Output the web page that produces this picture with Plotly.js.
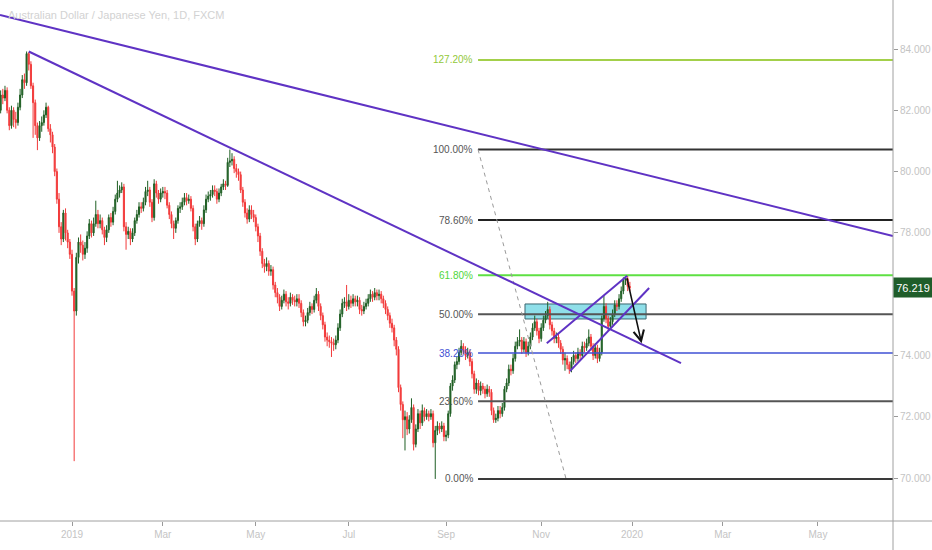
<!DOCTYPE html>
<html>
<head>
<meta charset="utf-8">
<script src="https://cdn.plot.ly/plotly-3.0.1.min.js"></script>
<style>html,body{margin:0;padding:0;background:#fff;}#chart{width:932px;height:550px;}</style>
</head>
<body>
<div id="chart"></div>
<script>
// ---------------- DATA ----------------
const symbolTitle = "Australian Dollar / Japanese Yen, 1D, FXCM";
const firstDate = "2018-11-13";
const holidays = ["2018-12-25", "2019-01-01", "2019-12-25", "2020-01-01"];
const firstOpen = 82.2;

const closes = [
  82.0, 82.5, 82.4, 82.65, 82.0, 81.5, 82.0, 81.7, 81.6, 82.1,
  82.5, 83.0, 82.9, 83.85, 83.5, 82.8, 82.25, 81.5, 81.1, 81.5,
  81.6, 81.85, 82.1, 81.4, 81.2, 80.8, 80.0, 79.1, 78.2, 77.8,
  78.65, 78.0, 77.7, 77.3, 76.1, 75.45, 77.2, 77.7, 77.6, 77.3,
  77.5, 77.9, 78.3, 78.0, 78.3, 78.6, 78.3, 78.4, 78.1, 77.85,
  78.1, 78.5, 78.35, 78.7, 79.1, 79.3, 79.4, 79.5, 78.2, 77.95,
  78.05, 77.8, 78.0, 78.4, 78.6, 78.85, 78.8, 79.0, 79.35, 79.4,
  79.0, 78.5, 79.6, 79.3, 79.1, 79.3, 79.35, 79.3, 78.9, 78.6,
  78.3, 78.15, 78.4, 78.8, 78.85, 79.0, 79.15, 79.05, 79.1, 78.8,
  78.2, 77.8, 78.3, 78.4, 78.3, 78.75, 79.1, 79.2, 79.25, 79.4,
  79.35, 79.1, 79.3, 79.5, 79.6, 79.55, 80.3, 80.35, 80.4, 80.1,
  80.0, 79.9, 79.4, 79.0, 78.65, 78.45, 78.75, 78.6, 78.5, 78.2,
  77.9, 77.4, 77.0, 76.9, 77.0, 76.75, 76.8, 76.3, 76.05, 75.9,
  75.6, 75.8, 76.0, 75.75, 75.7, 75.9, 75.8, 75.75, 75.85, 75.7,
  75.4, 75.1, 75.15, 75.4, 75.6, 75.5, 75.8, 76.0, 75.6, 75.3,
  75.0, 74.6, 74.5, 74.45, 74.4, 74.35, 74.5, 74.9, 75.35, 75.7,
  75.75, 75.6, 75.8, 75.7, 75.85, 75.75, 75.8, 75.5, 75.45, 75.6,
  75.7, 75.85, 76.0, 75.9, 76.05, 75.95, 76.0, 75.85, 75.7, 75.5,
  75.3, 75.05, 74.9, 74.5, 74.2, 72.95, 72.4, 71.9, 72.0, 71.6,
  71.9, 72.3, 71.1, 71.6, 72.1, 71.8, 72.2, 72.0, 72.1, 72.0,
  72.1, 71.15, 71.55, 71.7, 71.6, 71.7, 71.35, 71.4, 72.1, 73.0,
  73.2, 73.7, 73.8, 74.1, 74.3, 74.2, 74.0, 74.1, 73.8, 73.4,
  72.9, 73.1, 72.85, 73.0, 72.9, 72.75, 72.9, 72.8, 72.2, 71.9,
  71.95, 72.2, 72.1, 72.3, 72.9, 73.1, 73.55, 73.5, 73.9, 74.3,
  74.45, 74.5, 74.2, 74.45, 74.1, 74.3, 74.6, 74.9, 75.1, 74.8,
  74.55, 74.9, 75.15, 75.3, 75.5, 75.0, 74.8, 74.55, 74.6, 74.4,
  74.2, 73.85, 73.9, 73.7, 73.55, 73.8, 74.0, 73.9, 74.1, 74.0,
  74.3, 74.25, 74.4, 74.6, 74.3, 74.0, 74.25, 73.9, 74.1, 75.2,
  75.6, 75.2, 74.95, 75.1, 75.35, 75.65, 75.6, 75.85, 76.1, 76.45,
  76.5, 76.25, 76.219
];
const highs = [
  82.45, 82.65, 82.7, 82.8, 82.75, 82.1, 82.15, 82.1, 81.95, 82.25,
  82.7, 83.15, 83.2, 83.92, 83.9, 83.6, 82.9, 82.35, 81.6, 81.65,
  81.8, 82.0, 82.25, 82.15, 81.55, 81.3, 80.9, 80.1, 79.3, 78.35,
  78.75, 78.8, 78.1, 77.8, 77.45, 76.2, 77.35, 77.85, 77.95, 77.75,
  77.7, 78.05, 78.45, 78.4, 78.5, 79.05, 78.75, 78.6, 78.5, 78.2,
  78.25, 78.6, 78.65, 78.85, 79.25, 79.7, 79.55, 79.65, 79.6, 78.35,
  78.2, 78.15, 78.15, 78.5, 78.75, 79.0, 79.0, 79.15, 79.5, 79.7,
  79.5, 79.1, 79.75, 79.7, 79.4, 79.45, 79.5, 79.5, 79.4, 79.0,
  78.7, 78.4, 78.5, 78.9, 79.0, 79.15, 79.3, 79.3, 79.25, 79.2,
  78.9, 78.3, 78.4, 78.55, 78.5, 78.9, 79.25, 79.35, 79.4, 79.55,
  79.55, 79.45, 79.45, 79.6, 79.75, 79.7, 80.45, 80.72, 80.6, 80.5,
  80.25, 80.1, 80.0, 79.5, 79.1, 78.8, 78.9, 78.9, 78.75, 78.6,
  78.3, 78.0, 77.5, 77.15, 77.2, 77.1, 76.95, 76.9, 76.4, 76.2,
  76.0, 75.95, 76.15, 76.1, 75.9, 76.05, 76.0, 75.95, 76.0, 76.0,
  75.8, 75.5, 75.3, 75.55, 75.75, 75.7, 75.95, 76.2, 76.1, 75.7,
  75.4, 75.1, 74.75, 74.65, 74.6, 74.55, 74.65, 75.05, 75.5, 75.85,
  75.9, 76.3, 76.0, 75.95, 76.0, 75.95, 75.95, 75.9, 75.65, 75.75,
  75.85, 76.0, 76.15, 76.1, 76.2, 76.15, 76.15, 76.1, 75.95, 75.8,
  75.6, 75.4, 75.2, 75.0, 74.6, 74.3, 73.05, 72.5, 72.2, 72.15,
  72.05, 72.6, 72.4, 71.75, 72.25, 72.2, 72.4, 72.3, 72.25, 72.2,
  72.25, 72.2, 71.7, 71.85, 71.8, 71.85, 71.8, 71.55, 72.2, 73.1,
  73.35, 73.8, 73.95, 74.25, 74.5, 74.4, 74.3, 74.25, 74.2, 73.9,
  73.5, 73.25, 73.2, 73.15, 73.1, 73.0, 73.05, 73.0, 72.9, 72.3,
  72.1, 72.35, 72.35, 72.45, 73.0, 73.25, 73.7, 73.7, 74.05, 74.45,
  74.6, 74.85, 74.6, 74.6, 74.55, 74.45, 74.75, 75.05, 75.3, 75.2,
  74.9, 75.05, 75.3, 75.45, 75.75, 75.6, 75.1, 74.9, 74.75, 74.7,
  74.5, 74.3, 74.1, 74.0, 73.8, 73.95, 74.15, 74.1, 74.25, 74.2,
  74.45, 74.45, 74.55, 74.85, 74.7, 74.4, 74.4, 74.35, 74.25, 75.3,
  75.95, 75.7, 75.3, 75.25, 75.5, 75.8, 75.8, 76.0, 76.25, 76.55,
  76.62, 76.6, 76.4
];
const lows = [
  81.85, 81.9, 82.2, 82.3, 81.9, 81.35, 81.4, 81.45, 81.4, 81.5,
  82.0, 82.4, 82.7, 82.8, 83.3, 82.7, 81.1, 81.2, 80.7, 81.0,
  81.3, 81.5, 81.75, 81.3, 80.95, 80.6, 79.85, 78.95, 78.0, 77.6,
  77.7, 77.75, 77.5, 77.15, 75.95, 70.55, 75.3, 77.0, 77.35, 77.1,
  77.15, 77.35, 77.8, 77.85, 77.9, 78.2, 78.15, 78.15, 77.95, 77.6,
  77.7, 78.0, 78.2, 78.25, 78.6, 79.0, 79.15, 79.3, 78.05, 77.45,
  77.8, 77.6, 77.7, 77.9, 78.3, 78.5, 78.65, 78.7, 78.9, 79.2,
  78.85, 78.35, 78.4, 79.15, 78.95, 79.0, 79.15, 79.1, 78.8, 78.45,
  78.15, 77.8, 78.0, 78.3, 78.65, 78.75, 78.9, 78.9, 78.95, 78.7,
  78.05, 77.6, 77.7, 78.2, 78.1, 78.2, 78.65, 79.0, 79.05, 79.15,
  79.2, 78.95, 79.0, 79.2, 79.4, 79.4, 79.5, 80.15, 80.2, 79.95,
  79.8, 79.7, 79.3, 78.85, 78.5, 78.3, 78.35, 78.45, 78.35, 78.05,
  77.7, 77.25, 76.85, 76.7, 76.75, 76.6, 76.6, 76.15, 75.9, 75.7,
  75.45, 75.5, 75.7, 75.6, 75.5, 75.6, 75.65, 75.6, 75.6, 75.55,
  75.25, 74.95, 74.95, 75.05, 75.3, 75.35, 75.4, 75.7, 75.45, 75.15,
  74.85, 74.45, 74.3, 74.25, 73.95, 74.15, 74.2, 74.4, 74.8, 75.25,
  75.55, 75.45, 75.5, 75.55, 75.6, 75.6, 75.6, 75.35, 75.3, 75.35,
  75.5, 75.6, 75.75, 75.75, 75.8, 75.8, 75.8, 75.7, 75.55, 75.35,
  75.15, 74.9, 74.75, 74.3, 74.0, 72.8, 72.2, 71.3, 70.9, 71.4,
  71.45, 71.8, 70.9, 71.0, 71.5, 71.6, 71.7, 71.85, 71.9, 71.85,
  71.9, 71.0, 69.97, 71.4, 71.45, 71.5, 71.2, 71.2, 71.3, 72.0,
  72.85, 73.1, 73.55, 73.7, 74.0, 74.05, 73.85, 73.9, 73.65, 73.25,
  72.75, 72.75, 72.7, 72.7, 72.75, 72.6, 72.65, 72.65, 72.05, 71.8,
  71.8, 71.85, 71.95, 72.0, 72.2, 72.8, 73.0, 73.35, 73.4, 73.8,
  74.2, 74.3, 74.05, 74.1, 73.95, 74.0, 74.2, 74.5, 74.8, 74.65,
  74.4, 74.45, 74.8, 75.05, 75.2, 74.85, 74.65, 74.4, 74.4, 74.25,
  74.05, 73.7, 73.5, 73.55, 73.4, 73.45, 73.7, 73.75, 73.8, 73.85,
  73.9, 74.1, 74.15, 74.3, 74.15, 73.85, 73.9, 73.75, 73.8, 74.0,
  75.1, 75.05, 74.8, 74.85, 75.0, 75.25, 75.45, 75.5, 75.75, 76.0,
  76.3, 76.1, 76.1
];
const lastPrice = 76.219;

// x-axis ticks
const tickDates = ["2019-01-02", "2019-03-01", "2019-05-01", "2019-07-01", "2019-09-02", "2019-11-01", "2020-01-02", "2020-03-02", "2020-05-01"];
const tickLabels = ["2019", "Mar", "May", "Jul", "Sep", "Nov", "2020", "Mar", "May"];
// y-axis ticks (the 76.000 label sits under the last-price tag, as in the reference)
const yTicks = [70, 72, 74, 76, 78, 80, 82, 84];
const yTickLabels = ["70.000", "72.000", "74.000", "", "78.000", "80.000", "82.000", "84.000"];

// Fibonacci retracement
const fibHigh = 80.72, fibLow = 69.97;
const fibStart = "2019-09-20 19:00", fibEnd = "2019-11-18 12:00";
const fibRatios = [0, 0.236, 0.382, 0.5, 0.618, 0.786, 1, 1.272];
const fibLabels = ["0.00%", "23.60%", "38.20%", "50.00%", "61.80%", "78.60%", "100.00%", "127.20%"];
const fibLineColors = ["#3a3a3a", "#555555", "#3f51d4", "#555555", "#5ee043", "#222222", "#333333", "#a3d04a"];
const fibTextColors = ["#555555", "#555555", "#3f51d4", "#555555", "#4fd63a", "#555555", "#555555", "#93c83a"];

// Trendlines (start date, start price, end date, end price)
const trendLines = [
  ["2018-11-13 16:48", 85.11, "2020-06-18 16:48", 77.90],
  ["2018-12-03", 83.92, "2020-02-03 16:00", 73.75],
  ["2019-11-05 14:00", 74.40, "2019-12-27 19:00", 76.60],
  ["2019-11-20 07:00", 73.49, "2020-01-13 22:00", 76.20]
];
// Resistance zone
const zone = ["2019-10-22 12:00", "2020-01-10 12:00", 75.19, 75.68];
// Projection arrow (from, to)
const arrowFrom = ["2019-12-27 12:00", 76.57];
const arrowTo = ["2020-01-08 10:00", 74.40];

const xRange = ["2018-11-13 16:48", "2020-06-18 16:48"];
const yRange = [68.597, 85.60];

// ---------------- BUILD ----------------
function tradingDates(start, n, skip) {
  const out = [];
  const d = new Date(start + "T00:00:00Z");
  while (out.length < n) {
    const dow = d.getUTCDay();
    const s = d.toISOString().slice(0, 10);
    if (dow !== 0 && dow !== 6 && skip.indexOf(s) < 0) out.push(s);
    d.setUTCDate(d.getUTCDate() + 1);
  }
  return out;
}
const dates = tradingDates(firstDate, closes.length, holidays);
const opens = closes.map((c, i) => i === 0 ? firstOpen : closes[i - 1]);

const fam = "'Liberation Sans', Arial, sans-serif";
const purple = "#5f33c4";

const shapes = [];
shapes.push({type: "rect", layer: "below", xref: "x", yref: "y", x0: zone[0], x1: zone[1], y0: zone[2], y1: zone[3],
  fillcolor: "#8fdfe9", line: {color: "#3b6670", width: 1}});
fibRatios.forEach((r, i) => {
  const lvl = fibLow + r * (fibHigh - fibLow);
  shapes.push({type: "line", xref: "x", yref: "y", x0: fibStart, x1: xRange[1], y0: lvl, y1: lvl,
    line: {color: fibLineColors[i], width: (i === 2 ? 1.5 : 2)}});
});
shapes.push({type: "line", xref: "x", yref: "y", x0: fibStart, y0: fibHigh, x1: fibEnd, y1: fibLow,
  line: {color: "#9a9a9a", width: 1, dash: "4px,4px"}});
trendLines.forEach(t => {
  shapes.push({type: "line", xref: "x", yref: "y", x0: t[0], y0: t[1], x1: t[2], y1: t[3],
    line: {color: purple, width: 2}});
});
// axis frame lines
shapes.push({type: "line", xref: "paper", yref: "paper", x0: 1, x1: 1, y0: -0.06, y1: 1, line: {color: "#a0a0a0", width: 1}});
shapes.push({type: "line", xref: "paper", yref: "paper", x0: 0, x1: 1.05, y0: 0, y1: 0, line: {color: "#a0a0a0", width: 1}});

const annotations = [];
fibRatios.forEach((r, i) => {
  const lvl = fibLow + r * (fibHigh - fibLow);
  annotations.push({xref: "x", yref: "y", x: fibStart, y: lvl, text: fibLabels[i], showarrow: false,
    xanchor: "right", yanchor: "middle", xshift: -3,
    font: {family: fam, size: 10, color: fibTextColors[i]}});
});
annotations.push({xref: "x", yref: "y", x: arrowTo[0], y: arrowTo[1], axref: "x", ayref: "y",
  ax: arrowFrom[0], ay: arrowFrom[1], text: "", showarrow: true, arrowhead: 5, arrowsize: 1.3,
  arrowwidth: 1.6, arrowcolor: "#111111"});
annotations.push({xref: "paper", yref: "y", x: 1, y: lastPrice, text: lastPrice.toFixed(3), showarrow: false,
  xanchor: "left", yanchor: "middle", bgcolor: "#1f5d2a", width: 38, height: 19, borderpad: 0,
  font: {family: fam, size: 11, color: "#ffffff"}});
annotations.push({xref: "paper", yref: "paper", x: 0, y: 1, xanchor: "left", yanchor: "top", xshift: 6, yshift: -7,
  text: symbolTitle, showarrow: false, font: {family: fam, size: 11, color: "#d2d2d2"}});

const trace = {
  type: "candlestick", x: dates, open: opens, high: highs, low: lows, close: closes,
  increasing: {line: {color: "#1f5f24", width: 1}, fillcolor: "#1f5f24"},
  decreasing: {line: {color: "#f23a3a", width: 1}, fillcolor: "#f23a3a"},
  whiskerwidth: 0, hoverinfo: "skip", showlegend: false
};

const layout = {
  width: 932, height: 550,
  margin: {l: 0, r: 39, t: 0, b: 29, pad: 0},
  paper_bgcolor: "#ffffff", plot_bgcolor: "#ffffff",
  showlegend: false,
  xaxis: {
    type: "date", range: xRange,
    rangebreaks: [{bounds: ["sat", "mon"]}, {values: holidays}],
    rangeslider: {visible: false},
    tickmode: "array", tickvals: tickDates, ticktext: tickLabels,
    showgrid: false, zeroline: false, showline: false,
    ticks: "outside", ticklen: 4, tickcolor: "#999999", tickwidth: 1,
    tickfont: {family: fam, size: 10, color: "#c4c4c4"}
  },
  yaxis: {
    side: "right", range: yRange,
    tickmode: "array", tickvals: yTicks, ticktext: yTickLabels,
    showgrid: false, zeroline: false, showline: false,
    ticks: "outside", ticklen: 4, tickcolor: "#999999", tickwidth: 1,
    tickfont: {family: fam, size: 10, color: "#c4c4c4"}
  },
  shapes: shapes,
  annotations: annotations
};

Plotly.newPlot("chart", [trace], layout, {displayModeBar: false, staticPlot: true});
</script>
</body>
</html>
